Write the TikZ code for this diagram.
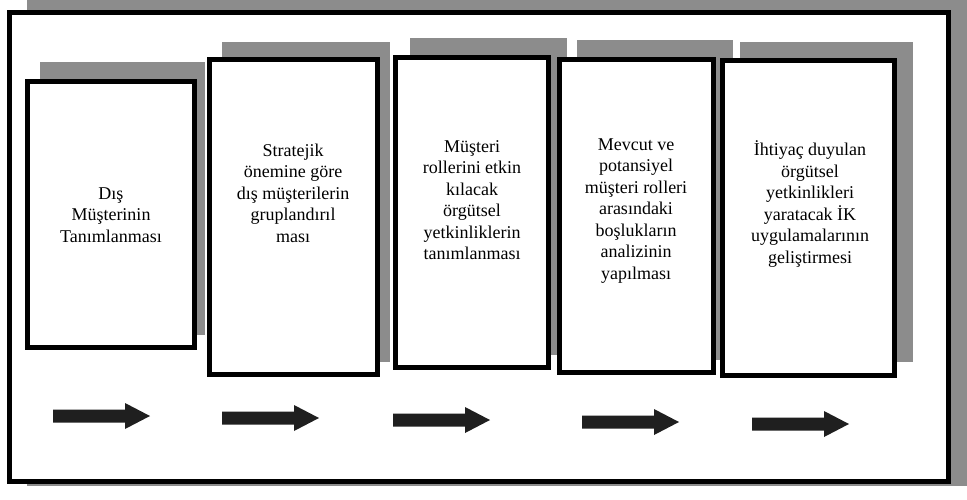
\documentclass[tikz,border=0pt]{standalone}
\usepackage{fontspec}
\setmainfont{Liberation Serif}
\begin{document}
\begin{tikzpicture}[x=1pt,y=-1pt,
  shadow/.style={fill=black!45},
  stepbox/.style={draw=black,line width=5pt,fill=white},
  label/.style={font=\fontsize{18}{21.5}\selectfont,align=center,inner sep=0pt},
  flow/.style={fill=black!88},
  flowarrow/.pic={\fill[flow] (0,-6.5) -- (72,-6.5) -- (72,-13) -- (97,0) -- (72,13) -- (72,6.5) -- (0,6.5) -- cycle;}]
\useasboundingbox (0,0) rectangle (967,499);
% outer frame
\fill[shadow] (27,0) rectangle (967,486);
\draw[stepbox] (9.5,12.5) rectangle (948,481);
% box shadows
\fill[shadow] (40,62) rectangle (205,335);
\fill[shadow] (222,42) rectangle (390,362);
\fill[shadow] (410,38) rectangle (567,355);
\fill[shadow] (577,40) rectangle (733,360);
\fill[shadow] (740,42) rectangle (913,362);
% boxes
\draw[stepbox] (27.5,81.5) rectangle (194.5,347.5);
\draw[stepbox] (209.5,59.5) rectangle (377.5,374.5);
\draw[stepbox] (395.5,57.5) rectangle (548.5,367.5);
\draw[stepbox] (559.5,59.5) rectangle (713.5,372.5);
\draw[stepbox] (722.5,60.5) rectangle (894.5,375.5);
% texts
\node[label] (t1) at (111,215) {Dış\\Müşterinin\\Tanımlanması};
\node[label] (t2) at (293,193) {Stratejik\\önemine göre\\dış müşterilerin\\gruplandırıl\\ması};
\node[label] (t3) at (472,200) {Müşteri\\rollerini etkin\\kılacak\\örgütsel\\yetkinliklerin\\tanımlanması};
\node[label] (t4) at (636,211) {Mevcut ve\\potansiyel\\müşteri rolleri\\arasındaki\\boşlukların\\analizinin\\yapılması};
\node[label] (t5) at (810,204) {İhtiyaç duyulan\\örgütsel\\yetkinlikleri\\yaratacak İK\\uygulamalarının\\geliştirmesi};
% arrows
\pic at (53,416) {flowarrow};
\pic at (222,418) {flowarrow};
\pic at (393,420) {flowarrow};
\pic at (582,422) {flowarrow};
\pic at (752,424) {flowarrow};
\end{tikzpicture}
\end{document}
